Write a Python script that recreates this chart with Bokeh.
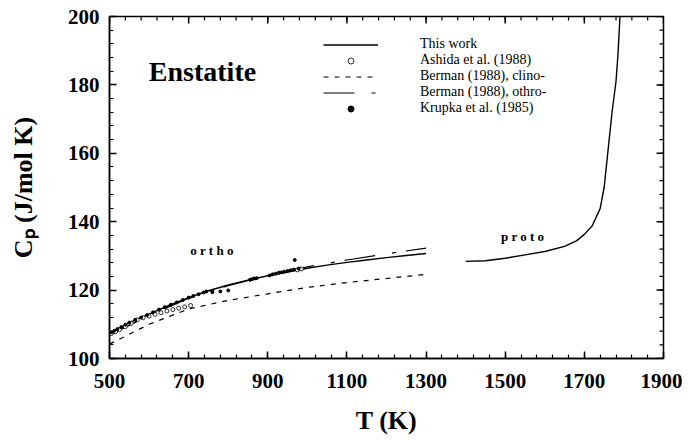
import math
from bokeh.plotting import figure
from bokeh.models import Range1d, FixedTicker, Label, Legend, LegendItem
from bokeh.embed import file_html
from bokeh.resources import INLINE

# ---- data ----
T_ortho = [500, 550, 600, 650, 700, 750, 800, 850, 900, 950, 1000, 1050, 1100, 1150, 1200, 1250, 1300]
cp_ortho = [107.3, 110.5, 113.0, 115.5, 117.8, 119.8, 121.5, 122.9, 124.2, 125.3, 126.4, 127.3, 128.1, 128.8, 129.5, 130.1, 130.7]

T_proto = [1400, 1450, 1500, 1550, 1600, 1650, 1680, 1700, 1720, 1740, 1750, 1760, 1770, 1780, 1785, 1790]
cp_proto = [128.4, 128.6, 129.3, 130.3, 131.3, 132.8, 134.4, 136.3, 138.8, 143.9, 150.0, 161.0, 172.0, 181.0, 189.0, 200.0]

T_berman = [500, 600, 700, 800, 900, 1000, 1100, 1200, 1300]
cp_berman_clino = [104.2, 110.0, 114.5, 117.0, 118.9, 120.8, 122.2, 123.4, 124.6]
cp_berman_ortho = [106.8, 112.6, 117.6, 121.3, 124.3, 126.8, 128.8, 130.6, 132.3]

T_ashida = [505, 515, 525, 540, 555, 570, 585, 600, 615, 630, 645, 660, 675, 690, 705, 975, 985]
cp_ashida = [107.3, 107.8, 108.4, 109.3, 110.3, 111.3, 111.9, 112.4, 112.9, 113.4, 113.9, 114.3, 114.7, 115.1, 115.5, 125.9, 126.2]

T_krupka = [505, 512, 520, 530, 540, 550, 565, 580, 595, 610, 625, 640, 655, 670, 685, 700, 712, 725, 738,
            745, 760, 780, 800, 855, 860, 866, 872, 905, 912, 920, 928, 935, 942, 950, 958, 966, 968, 978]
cp_krupka = [107.7, 108.1, 108.6, 109.2, 109.9, 110.5, 111.3, 112.0, 112.7, 113.5, 114.3, 115.0, 115.7, 116.4, 117.1,
             117.8, 118.3, 118.8, 119.3, 119.6, 119.4, 119.6, 119.9, 123.0, 123.2, 123.4, 123.5, 124.3, 124.6, 124.8,
             125.1, 125.2, 125.4, 125.6, 125.8, 126.0, 128.8, 126.3]

x_major = [500, 700, 900, 1100, 1300, 1500, 1700, 1900]
x_minor = list(range(500, 1901, 40))
y_major = [100, 120, 140, 160, 180, 200]
y_minor = list(range(100, 201, 4))
X_MIN, X_MAX, Y_MIN, Y_MAX = 500, 1900, 100, 200

FONT = "Liberation Serif"

p = figure(frame_width=554, frame_height=342, x_range=Range1d(X_MIN, X_MAX), y_range=Range1d(Y_MIN, Y_MAX),
           output_backend="svg", toolbar_location=None,
           min_border_left=109, min_border_right=19, min_border_top=16, min_border_bottom=60)
p.xgrid.visible = False
p.ygrid.visible = False
p.outline_line_color = "black"
p.outline_line_width = 1.5
p.background_fill_color = "white"
p.border_fill_color = "white"


def style_axis(ax, ticks, minor):
    ax.ticker = FixedTicker(ticks=ticks, minor_ticks=minor)
    ax.axis_line_width = 1.5
    ax.axis_line_color = "black"
    ax.major_tick_line_width = 1.5
    ax.major_tick_in = 7
    ax.major_tick_out = 0
    ax.minor_tick_in = 4
    ax.minor_tick_out = 0
    ax.minor_tick_line_width = 1.2
    ax.major_label_text_font = FONT
    ax.major_label_text_font_style = "bold"
    ax.major_label_text_font_size = "21px"
    ax.major_label_text_color = "black"
    ax.axis_label_text_font = FONT
    ax.axis_label_text_font_style = "bold"
    ax.axis_label_text_font_size = "26px"
    ax.axis_label_text_color = "black"


style_axis(p.xaxis[0], x_major, x_minor)
style_axis(p.yaxis[0], y_major, y_minor)
p.xaxis[0].major_label_standoff = 15
p.yaxis[0].major_label_standoff = 10
p.xaxis[0].axis_label = "T (K)"
p.xaxis[0].axis_label_standoff = 15
p.yaxis[0].axis_label = "C\u209a (J/mol K)"
p.yaxis[0].axis_label_standoff = 27

# mirrored ticks on top and right edges (screen-length rays)
p.ray(x=x_major, y=[Y_MAX] * len(x_major), length=7, length_units="screen", angle=-math.pi / 2,
      line_color="black", line_width=1.5)
p.ray(x=x_minor, y=[Y_MAX] * len(x_minor), length=4, length_units="screen", angle=-math.pi / 2,
      line_color="black", line_width=1.2)
p.ray(x=[X_MAX] * len(y_major), y=y_major, length=7, length_units="screen", angle=math.pi,
      line_color="black", line_width=1.5)
p.ray(x=[X_MAX] * len(y_minor), y=y_minor, length=4, length_units="screen", angle=math.pi,
      line_color="black", line_width=1.2)

# ---- curves ----
r_this = p.line(T_ortho, cp_ortho, line_color="black", line_width=1.4)
p.line(T_proto, cp_proto, line_color="black", line_width=1.4)
r_clino = p.line(T_berman, cp_berman_clino, line_color="black", line_width=1.2, line_dash="5 6")
r_bortho = p.line(T_berman, cp_berman_ortho, line_color="black", line_width=1.2, line_dash="31 17 4 10")
r_ashida = p.scatter(T_ashida, cp_ashida, marker="circle", size=4, fill_color="white",
                     line_color="black", line_width=0.8)
r_krupka = p.scatter(T_krupka, cp_krupka, marker="circle", size=3, fill_color="black", line_color="black")

legend = Legend(items=[
    LegendItem(label="This work", renderers=[r_this]),
    LegendItem(label="Ashida et al. (1988)", renderers=[r_ashida]),
    LegendItem(label="Berman (1988), clino-", renderers=[r_clino]),
    LegendItem(label="Berman (1988), othro-", renderers=[r_bortho]),
    LegendItem(label="Krupka et al. (1985)", renderers=[r_krupka]),
], location=(214, 242))
legend.label_text_font = FONT
legend.label_text_font_size = "14px"
legend.label_text_color = "black"
legend.glyph_width = 55
legend.glyph_height = 15
legend.label_height = 15
legend.label_standoff = 42
legend.spacing = 0
legend.padding = 0
legend.margin = 0
legend.border_line_alpha = 0
legend.background_fill_alpha = 0
p.add_layout(legend)

# ---- annotations ----
p.add_layout(Label(x=735, y=183.8, text="Enstatite", text_align="center", text_baseline="middle",
                   text_font=FONT, text_font_style="bold", text_font_size="28px", text_color="black"))
p.add_layout(Label(x=759, y=131.6, text="o r t h o", text_align="center", text_baseline="middle",
                   text_font=FONT, text_font_style="bold", text_font_size="13px", text_color="black"))
p.add_layout(Label(x=1544, y=135.7, text="p r o t o", text_align="center", text_baseline="middle",
                   text_font=FONT, text_font_style="bold", text_font_size="13px", text_color="black"))

open("out.html", "w").write(file_html(p, INLINE))
